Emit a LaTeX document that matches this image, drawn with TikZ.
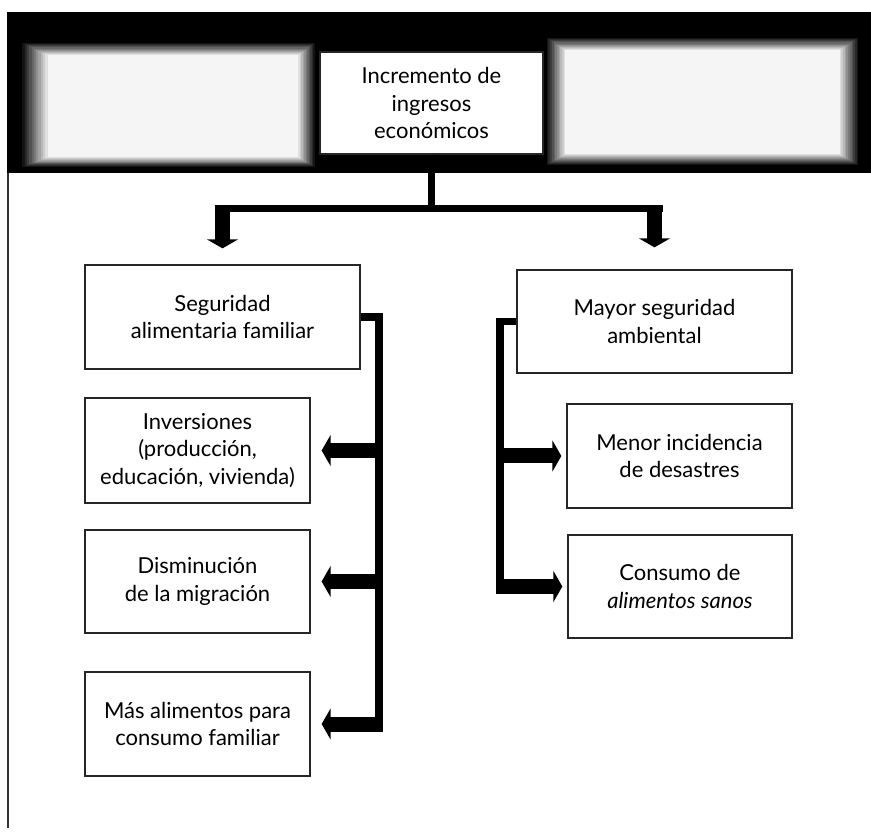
\documentclass[tikz,border=0pt]{standalone}
\usepackage{fontspec}
\setmainfont{Lato}
\usetikzlibrary{arrows.meta}
\begin{document}
\begin{tikzpicture}[x=1pt,y=-1pt,
  box/.style={draw=black!85, line width=1.3pt, fill=white, align=center,
    inner sep=0pt, font=\fontsize{22}{27.5}\selectfont},
  link/.style={line width=7.5pt, line join=miter, line cap=butt},
  fat/.style={line width=15pt, -{Triangle[width=31pt,length=9pt]}},
  rule/.style={draw=black!80, line width=1.4pt}
]
\useasboundingbox (0,0) rectangle (871,834);
\fill[white] (0,0) rectangle (871,834);

% header band and left rule
\fill[black] (7,12) rectangle (871,173);
\draw[rule] (8,173) -- (8,828);

% two soft-edged panels in the header
\foreach \k in {0,...,12} {
  \pgfmathtruncatemacro\c{100-\k*8}
  \fill[black!\c] (20+\k*2.3, 42+\k*1.1) rectangle (316-\k*1.5, 168-\k*0.9);
  \fill[black!\c] (545+\k*1.7, 37+\k*1.1) rectangle (860-\k*1.7, 166-\k*1.0);
}

% boxes
\node[box, minimum width=223pt, minimum height=102pt] (top) at (431.5,103)
  {Incremento de\\ingresos\\económicos};
\node[box, minimum width=275pt, minimum height=104pt] (seg) at (222.5,317)
  {Seguridad\\alimentaria familiar};
\node[box, minimum width=225pt, minimum height=105pt] (inv) at (197.5,450.5)
  {Inversiones\\(producción,\\educación, vivienda)};
\node[box, minimum width=225pt, minimum height=103pt] (dis) at (197.5,581.5)
  {Disminución\\de la migración};
\node[box, minimum width=225pt, minimum height=104pt] (mas) at (197.5,724)
  {Más alimentos para\\consumo familiar};
\node[box, minimum width=275pt, minimum height=103pt] (may) at (654.5,321.5)
  {Mayor seguridad\\ambiental};
\node[box, minimum width=225pt, minimum height=104pt] (men) at (679.5,456)
  {Menor incidencia\\de desastres};
\node[box, minimum width=224pt, minimum height=103pt] (con) at (680,586.5)
  {Consumo de\\\itshape alimentos sanos};

% fork below the header
\coordinate (fork) at (top.south |- 0,208.5);
\coordinate (la) at (seg.north |- fork);
\coordinate (ra) at (may.north |- fork);
\draw[link] (top.south) -- (fork);
\draw[link] ([xshift=-8pt]la) -- ([xshift=8pt]ra);
\draw[fat] ([yshift=3.5pt]la) -- ([yshift=16pt]seg.north);
\draw[fat] ([yshift=3.5pt]ra) -- ([yshift=22pt]may.north);

% left branch
\coordinate (ls) at (379,0);
\coordinate (seg-j) at (seg.east -| ls);
\coordinate (mas-j) at (mas.east -| ls);
\draw[link] (seg.east) -- (seg-j) -- (mas-j);
\foreach \n in {inv,dis,mas} {
  \coordinate (\n-j) at (\n.east -| ls);
  \draw[fat] ([xshift=3.75pt]\n-j) -- ([xshift=11pt]\n.east);
}

% right branch
\coordinate (rs) at (500,0);
\coordinate (may-j) at (may.west -| rs);
\coordinate (con-j) at (con.west -| rs);
\draw[link] (may.west) -- (may-j) -- (con-j);
\foreach \n in {men,con} {
  \coordinate (\n-j) at (\n.west -| rs);
  \draw[fat] ([xshift=-3.75pt]\n-j) -- ([xshift=-5pt]\n.west);
}
\end{tikzpicture}
\end{document}
